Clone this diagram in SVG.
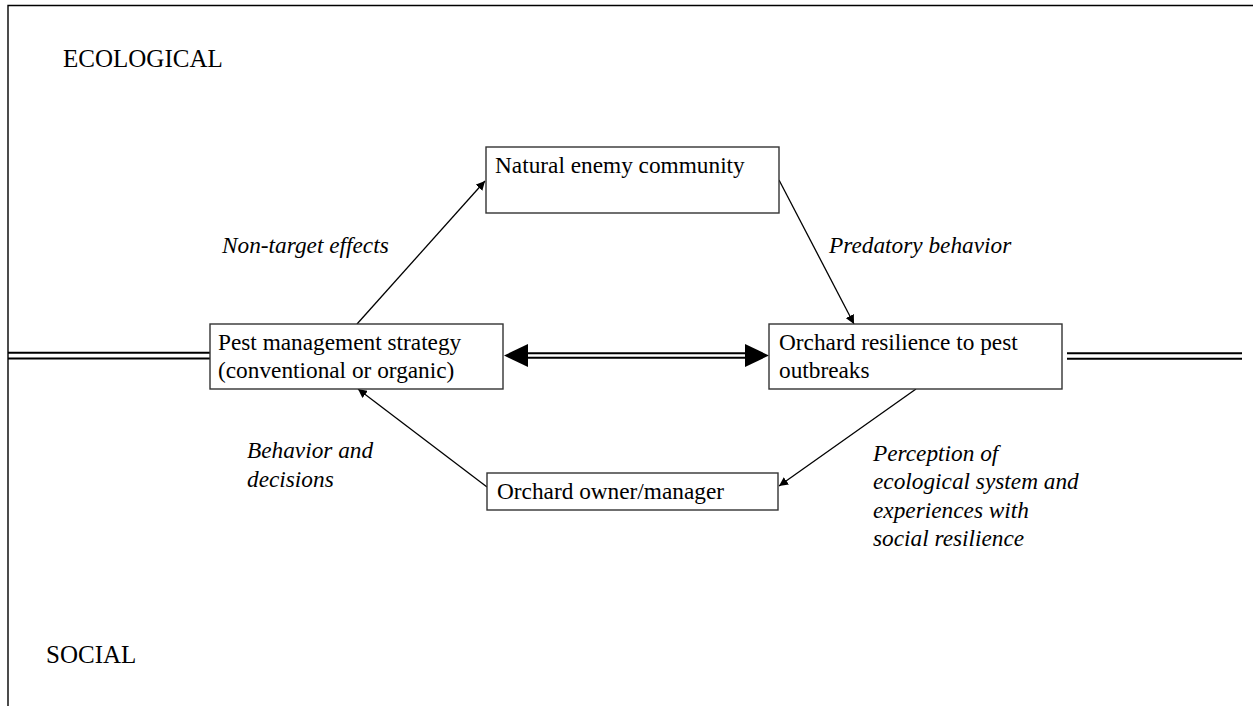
<svg xmlns="http://www.w3.org/2000/svg" width="1253" height="706" viewBox="0 0 1253 706">
  <style>
    .box { fill: #ffffff; stroke: #333333; stroke-width: 1.4; }
    .txt { font-family: "Liberation Serif", "Times New Roman", serif; font-size: 23.3px; fill: #000000; }
    .lbl { font-family: "Liberation Serif", "Times New Roman", serif; font-size: 23.3px; font-style: italic; fill: #000000; }
    .zone { font-family: "Liberation Serif", "Times New Roman", serif; font-size: 25px; fill: #000000; }
    .frame { fill: none; stroke: #000000; stroke-width: 1.4; }
    .conn { fill: none; stroke: #000000; stroke-width: 1.3; }
    .dbl { fill: none; stroke: #000000; stroke-width: 2; }
  </style>
  <defs>
    <marker id="head" viewBox="0 0 10 10" refX="10" refY="5" markerWidth="9" markerHeight="9" markerUnits="userSpaceOnUse" orient="auto">
      <path d="M0,0 L10,5 L0,10 z" fill="#000000"/>
    </marker>
  </defs>

  <rect x="0" y="0" width="1253" height="706" fill="#ffffff"/>

  <!-- frame: top edge and left edge -->
  <g id="frame">
    <path class="frame" d="M8,706 L8,5.5 L1253,5.5"/>
  </g>

  <!-- zone labels -->
  <text class="zone" x="63" y="67">ECOLOGICAL</text>
  <text class="zone" x="46" y="663">SOCIAL</text>

  <!-- connectors -->
  <g id="connectors">
    <!-- double boundary line, left and right -->
    <path class="dbl" d="M8,352.8 L210,352.8 M8,358.6 L210,358.6"/>
    <path class="dbl" d="M1067,353.3 L1242,353.3 M1067,358.8 L1242,358.8"/>
    <!-- two-way link between strategy and resilience -->
    <path class="dbl" d="M525,353.3 L748,353.3 M525,357.8 L748,357.8"/>
    <polygon points="504,355.5 528,344 528,367" fill="#000000"/>
    <polygon points="769,355.5 745,344 745,367" fill="#000000"/>
    <!-- cycle arrows -->
    <line class="conn" x1="357" y1="324" x2="485" y2="181" marker-end="url(#head)"/>
    <line class="conn" x1="779" y1="180" x2="854" y2="324" marker-end="url(#head)"/>
    <line class="conn" x1="916" y1="389" x2="779" y2="486" marker-end="url(#head)"/>
    <line class="conn" x1="487" y1="487" x2="358" y2="389" marker-end="url(#head)"/>
  </g>

  <g id="node-enemy">
    <rect class="box" x="486" y="147" width="293" height="66"/>
    <text class="txt" x="495" y="173">Natural enemy community</text>
  </g>

  <g id="node-strategy">
    <rect class="box" x="210" y="324" width="293" height="65"/>
    <text class="txt" x="218" y="350">Pest management strategy</text>
    <text class="txt" x="218" y="378">(conventional or organic)</text>
  </g>

  <g id="node-resilience">
    <rect class="box" x="769" y="324" width="293" height="65"/>
    <text class="txt" x="779" y="350">Orchard resilience to pest</text>
    <text class="txt" x="779" y="378">outbreaks</text>
  </g>

  <g id="node-owner">
    <rect class="box" x="487" y="473" width="291" height="37"/>
    <text class="txt" x="497" y="499">Orchard owner/manager</text>
  </g>

  <!-- link labels -->
  <g id="labels">
    <text class="lbl" x="222" y="253">Non-target effects</text>
    <text class="lbl" x="829" y="253">Predatory behavior</text>
    <text class="lbl" x="247" y="458">Behavior and</text>
    <text class="lbl" x="247" y="487">decisions</text>
    <text class="lbl" x="873" y="461">Perception of</text>
    <text class="lbl" x="873" y="489">ecological system and</text>
    <text class="lbl" x="873" y="518">experiences with</text>
    <text class="lbl" x="873" y="546">social resilience</text>
  </g>
</svg>
